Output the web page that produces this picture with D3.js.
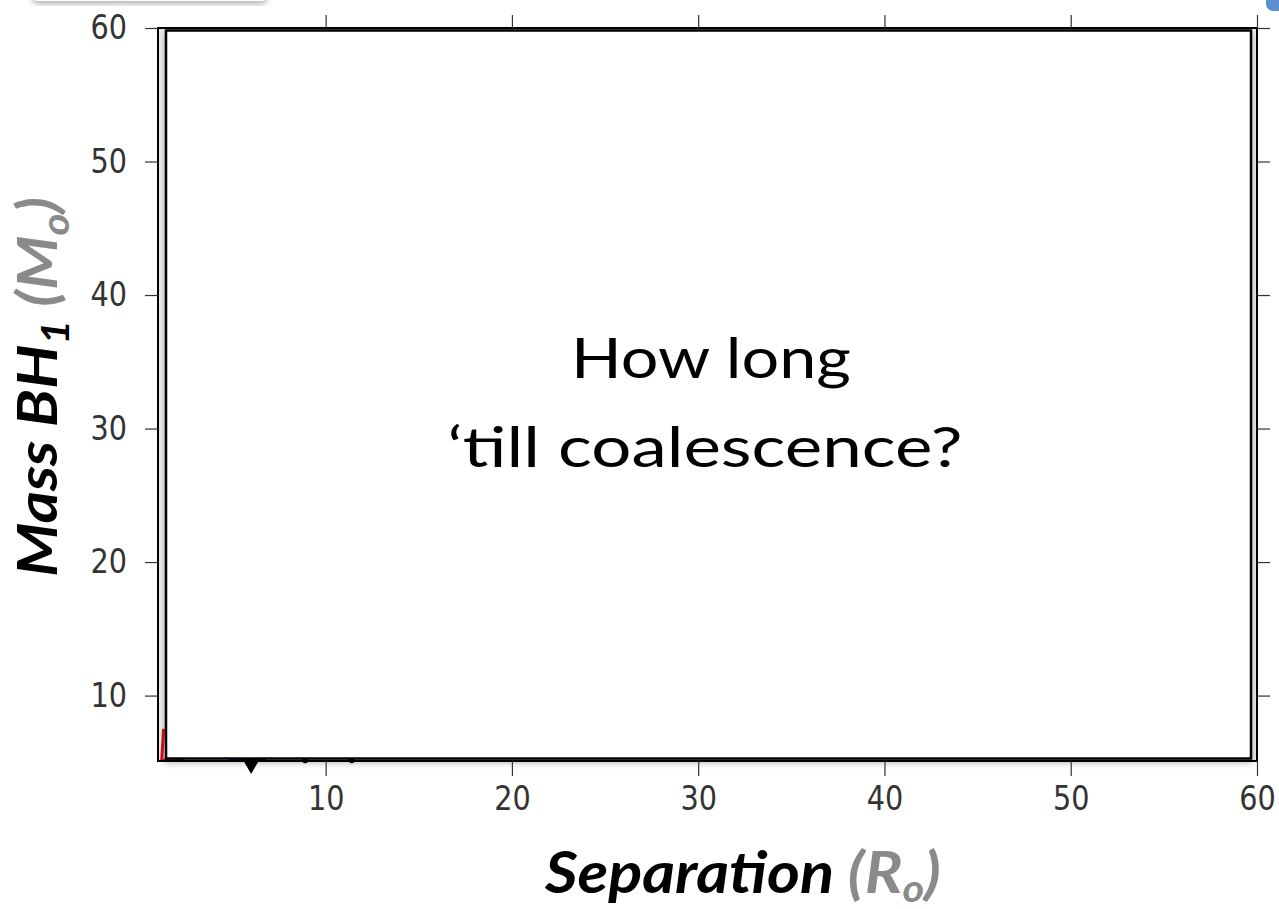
<!DOCTYPE html>
<html>
<head>
<meta charset="utf-8">
<script src="https://cdn.jsdelivr.net/npm/d3@7"></script>
<style>
  html, body { margin: 0; padding: 0; background: #fff; }
  svg { display: block; }
</style>
</head>
<body>
<div id="chart"></div>
<script>
// tick values
var xTicks = [10, 20, 30, 40, 50, 60]
var yTicks = [10, 20, 30, 40, 50, 60]
var xDomain = [1, 60]
var yDomain = [5.1, 60]

// the bits of data that peek out from under the white box
var redSep  = [1.30, 1.25, 1.20, 1.6, 2.4]
var redMass = [7.5, 6.3, 5.2, 5.15, 5.15]
var blueSep  = [4.8, 5.5, 6.2, 6.8]
var blueMass = [5.15, 5.15, 5.15, 5.15]
var blackSep  = [8.9, 11.4]
var blackMass = [5.15, 5.15]
var markerSep  = [6.0]
var markerMass = [4.85]

var width = 1279, height = 909
var margin = {top: 28, right: 22, bottom: 148, left: 158}

var svg = d3.select("#chart").append("svg")
    .attr("width", width)
    .attr("height", height)

var defs = svg.append("defs")
var sh = defs.append("filter").attr("id", "shadow")
    .attr("x", "-5%").attr("y", "-5%").attr("width", "110%").attr("height", "115%")
sh.append("feDropShadow").attr("dx", 0).attr("dy", 3).attr("stdDeviation", 3)
    .attr("flood-color", "#000").attr("flood-opacity", 0.3)

// slide decorations cut off at the top
svg.append("rect").attr("x", 32).attr("y", -40).attr("width", 235).attr("height", 41)
    .attr("rx", 6).attr("fill", "#fff").attr("filter", "url(#shadow)")
svg.append("rect").attr("x", 1266).attr("y", -20).attr("width", 30).attr("height", 31)
    .attr("rx", 7).attr("fill", "#5b8fd2")

var x = d3.scaleLinear().domain(xDomain).range([margin.left, width - margin.right])
var y = d3.scaleLinear().domain(yDomain).range([height - margin.bottom, margin.top])

var x0 = x.range()[0], x1 = x.range()[1]
var y0 = y.range()[1], y1 = y.range()[0]

// plot area (grey strip shows between the frame and the pasted box)
svg.append("rect").attr("x", x0).attr("y", y0).attr("width", x1 - x0).attr("height", y1 - y0)
    .attr("fill", "#ebebeb")

// data
var line = d3.line().x(function(d){ return x(d[0]) }).y(function(d){ return y(d[1]) })
svg.append("path").datum(d3.zip(redSep, redMass)).attr("d", line)
    .attr("fill", "none").attr("stroke", "#e01010").attr("stroke-width", 3)
svg.append("path").datum(d3.zip(blueSep, blueMass)).attr("d", line)
    .attr("fill", "none").attr("stroke", "#1a1aa0").attr("stroke-width", 3)
svg.selectAll(".blk").data(d3.zip(blackSep, blackMass)).enter().append("circle")
    .attr("cx", function(d){ return x(d[0]) }).attr("cy", function(d){ return y(d[1]) })
    .attr("r", 3).attr("fill", "#000")

// frame
svg.append("rect").attr("x", x0).attr("y", y0).attr("width", x1 - x0).attr("height", y1 - y0)
    .attr("fill", "none").attr("stroke", "#000").attr("stroke-width", 2)

// white box pasted over the plot
svg.append("rect").attr("x", x0 + 8).attr("y", y0 + 2.5)
    .attr("width", x1 - x0 - 14).attr("height", y1 - y0 - 5)
    .attr("fill", "#fff").attr("stroke", "#000").attr("stroke-width", 2.5)
    .attr("filter", "url(#shadow)")

// triangle marker below the frame
svg.selectAll(".tri").data(d3.zip(markerSep, markerMass)).enter().append("path")
    .attr("d", d3.symbol().type(d3.symbolTriangle).size(120))
    .attr("transform", function(d){ return "translate(" + x(d[0]) + "," + y(d[1]) + ") rotate(180)" })
    .attr("fill", "#000")

// axes, ticks point outward
var gx = svg.append("g").attr("transform", "translate(0," + y1 + ")")
    .call(d3.axisBottom(x).tickValues(xTicks).tickSize(15).tickFormat(d3.format("d")))
var gy = svg.append("g").attr("transform", "translate(" + x0 + ",0)")
    .call(d3.axisLeft(y).tickValues(yTicks).tickSize(13).tickFormat(d3.format("d")))
var gt = svg.append("g").attr("transform", "translate(0," + y0 + ")")
    .call(d3.axisTop(x).tickValues(xTicks).tickSize(13).tickFormat(""))
var gr = svg.append("g").attr("transform", "translate(" + x1 + ",0)")
    .call(d3.axisRight(y).tickValues(yTicks).tickSize(13).tickFormat(""))

;[gx, gy, gt, gr].forEach(function(g){
  g.select(".domain").remove()
  g.selectAll("line").attr("stroke", "#333").attr("stroke-width", 1.2)
  g.selectAll("text").attr("font-family", "DejaVu Sans").attr("font-size", 33).attr("fill", "#333")
})
gx.selectAll("text").attr("y", 26).attr("transform", "scale(0.87,1)")
gy.selectAll("text").attr("x", -31 / 0.87).attr("transform", "scale(0.87,1)")

// squeeze/stretch a text so it spans the width seen in the picture
function fitWidth(sel, cx, w) {
  var k = w / sel.node().getBBox().width
  sel.attr("transform", "translate(" + cx + ",0) scale(" + k + ",1) translate(" + (-cx) + ",0)")
}

// overlay question
var q1 = svg.append("text").attr("x", 711).attr("y", 378).attr("text-anchor", "middle")
    .attr("font-family", "Lato").attr("font-size", 56).attr("fill", "#000").text("How long")
fitWidth(q1, 711, 280)
var q2 = svg.append("text").attr("x", 705).attr("y", 467).attr("text-anchor", "middle")
    .attr("font-family", "Lato").attr("font-size", 56).attr("fill", "#000").text("\u2018till coalescence?")
fitWidth(q2, 705, 515)

// x title
var xt = svg.append("text").attr("x", 743).attr("y", 893).attr("text-anchor", "middle")
    .attr("font-family", "Lato").attr("font-weight", "bold").attr("font-style", "italic")
    .attr("font-size", 58)
xt.append("tspan").attr("fill", "#000").text("Separation ")
xt.append("tspan").attr("fill", "#8a8a8a").text("(R")
xt.append("tspan").attr("fill", "#8a8a8a").attr("font-size", 38).attr("dy", 9).text("o")
xt.append("tspan").attr("fill", "#8a8a8a").attr("dy", -9).text(")")
fitWidth(xt, 743, 397)

// y title
var yg = svg.append("g").attr("transform", "translate(57,387) rotate(-90)")
var yt = yg.append("text").attr("x", 0).attr("y", 0).attr("text-anchor", "middle")
    .attr("font-family", "Lato").attr("font-weight", "bold").attr("font-style", "italic")
    .attr("font-size", 56)
yt.append("tspan").attr("fill", "#000").text("Mass BH")
yt.append("tspan").attr("fill", "#000").attr("font-size", 38).attr("dy", 12).text("1")
yt.append("tspan").attr("fill", "#8a8a8a").attr("dy", -12).text(" (M")
yt.append("tspan").attr("fill", "#8a8a8a").attr("font-size", 38).attr("dy", 12).text("o")
yt.append("tspan").attr("fill", "#8a8a8a").attr("dy", -12).text(")")
fitWidth(yt, 0, 380)
</script>
</body>
</html>
